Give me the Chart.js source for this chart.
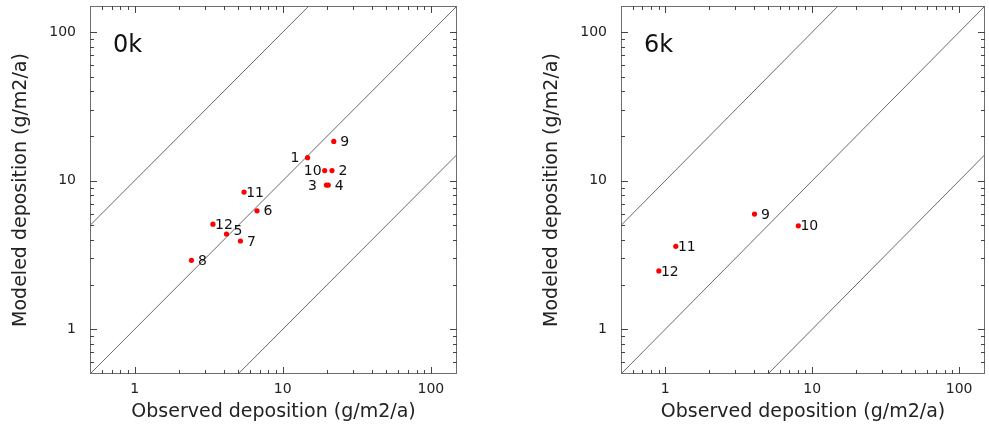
<!DOCTYPE html>
<html>
<head>
<meta charset="utf-8">
<script src="https://cdn.jsdelivr.net/npm/chart.js@4.4.0/dist/chart.umd.min.js"></script>
<style>
  html, body { margin: 0; padding: 0; background: #fff; }
  #left { position: absolute; left: 0; top: 0; }
  #right { position: absolute; left: 531px; top: 0; }
</style>
</head>
<body>
<canvas id="left" width="531" height="433"></canvas>
<canvas id="right" width="458" height="433"></canvas>
<script>
// 0k sites
const sites0k = ["1", "2", "3", "4", "5", "6", "7", "8", "9", "10", "11", "12"];
const observed0k = [14.7, 21.5, 19.7, 20.3, 4.17, 6.7, 5.18, 2.42, 22.1, 19.2, 5.48, 3.38];
const modeled0k = [14.3, 11.7, 9.35, 9.35, 4.38, 6.27, 3.93, 2.91, 18.4, 11.7, 8.39, 5.1];

// 6k sites
const sites6k = ["9", "10", "11", "12"];
const observed6k = [4.05, 8.05, 1.18, 0.905];
const modeled6k = [5.96, 4.97, 3.62, 2.47];

const axisMin = 0.5;
const axisMax = 150;
const tickValues = [1, 10, 100];
const minorValues = [0.6, 0.7, 0.8, 0.9, 2, 3, 4, 5, 6, 7, 8, 9, 20, 30, 40, 50, 60, 70, 80, 90];
const ratios = [10, 1, 0.1]; // model = ratio * observed

const FONT = "'DejaVu Sans', Verdana, sans-serif";

// label placement (left of the point for a few crowded ones)
const labelShift0k = { "1": [-12.5, 0], "10": [-12, 0], "3": [-14, 0], "5": [11.5, -4] };
const labelShift6k = {};

function ratioLine(r) {
  const x0 = Math.max(axisMin, axisMin / r);
  const x1 = Math.min(axisMax, axisMax / r);
  return [{ x: x0, y: r * x0 }, { x: x1, y: r * x1 }];
}

const frame = {
  id: "frame",
  afterDraw(chart) {
    const { ctx, chartArea: a, scales } = chart;
    const sx = scales.x, sy = scales.y;
    ctx.save();
    ctx.strokeStyle = "#6e6e6e";
    ctx.lineWidth = 1;
    ctx.strokeRect(a.left + 0.5, a.top + 0.5, a.right - a.left - 1, a.bottom - a.top - 1);
    ctx.strokeStyle = "#444";
    const mark = (v, len) => {
      const px = Math.round(sx.getPixelForValue(v)) + 0.5;
      const py = Math.round(sy.getPixelForValue(v)) + 0.5;
      ctx.beginPath();
      ctx.moveTo(px, a.bottom); ctx.lineTo(px, a.bottom - len);
      ctx.moveTo(px, a.top); ctx.lineTo(px, a.top + len);
      ctx.moveTo(a.left, py); ctx.lineTo(a.left + len, py);
      ctx.moveTo(a.right, py); ctx.lineTo(a.right - len, py);
      ctx.stroke();
    };
    tickValues.forEach(v => mark(v, 7));
    minorValues.forEach(v => mark(v, 4));
    ctx.restore();
  }
};

const pointLabels = {
  id: "pointLabels",
  afterDatasetsDraw(chart, args, opts) {
    const { ctx } = chart;
    const meta = chart.getDatasetMeta(0);
    ctx.save();
    ctx.font = "14px " + FONT;
    ctx.fillStyle = "#111";
    ctx.textAlign = "center";
    ctx.textBaseline = "middle";
    meta.data.forEach((pt, i) => {
      const name = opts.names[i];
      const s = opts.shift[name] || [11, 0];
      ctx.fillText(name, pt.x + s[0], pt.y + s[1] + 1);
    });
    // panel tag
    ctx.font = "24px " + FONT;
    ctx.textAlign = "left";
    ctx.textBaseline = "alphabetic";
    ctx.fillText(opts.tag, chart.chartArea.left + 23, 52);
    ctx.restore();
  }
};

function makeChart(id, names, obs, mod, tag, shift, padRight) {
  const points = obs.map((v, i) => ({ x: v, y: mod[i] }));
  const lines = ratios.map(r => ({
    type: "line",
    data: ratioLine(r),
    borderColor: "#6a6a6a",
    borderWidth: 1,
    pointRadius: 0,
    showLine: true,
    order: 2
  }));
  const scaleBase = (title) => ({
    type: "logarithmic",
    min: axisMin,
    max: axisMax,
    grid: { display: false, drawTicks: false },
    border: { display: false },
    afterBuildTicks: (scale) => { scale.ticks = tickValues.map(v => ({ value: v })); },
    ticks: {
      color: "#222",
      font: { family: FONT, size: 14 },
      callback: (v) => String(v)
    },
    title: {
      display: true,
      text: title,
      color: "#222",
      font: { family: FONT, size: 19 }
    }
  });
  const xs = scaleBase("Observed deposition (g/m2/a)");
  xs.ticks.padding = 7;
  xs.title.padding = { top: 0, bottom: 10 };
  xs.afterFit = (scale) => {
    scale.height = 59;
    scale.paddingLeft = 0;
    scale.paddingRight = 0;
  };
  const ys = scaleBase("Modeled deposition (g/m2/a)");
  ys.ticks.padding = 14;
  ys.title.padding = { top: 10, bottom: 0 };
  ys.afterFit = (scale) => {
    scale.width = 90;
    scale.paddingTop = 0;
    scale.paddingBottom = 0;
  };

  return new Chart(document.getElementById(id), {
    type: "scatter",
    data: {
      datasets: [{
        data: points,
        backgroundColor: "#ff0000",
        borderColor: "#ff0000",
        pointRadius: 2.6,
        borderWidth: 0,
        order: 0
      }].concat(lines)
    },
    options: {
      responsive: false,
      animation: false,
      layout: { padding: { top: 6, left: 0, right: padRight, bottom: 0 } },
      plugins: {
        legend: { display: false },
        tooltip: { enabled: false },
        pointLabels: { names: names, tag: tag, shift: shift }
      },
      scales: { x: xs, y: ys }
    },
    plugins: [frame, pointLabels]
  });
}

makeChart("left", sites0k, observed0k, modeled0k, "0k", labelShift0k, 74);
makeChart("right", sites6k, observed6k, modeled6k, "6k", labelShift6k, 1);
</script>
</body>
</html>
